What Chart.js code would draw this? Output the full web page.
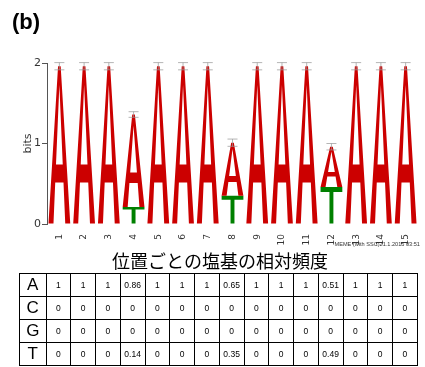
<!DOCTYPE html>
<html>
<head>
<meta charset="utf-8">
<script src="https://cdn.jsdelivr.net/npm/chart.js@4"></script>
<style>
  body { margin: 0; background: #fff; }
  #wrap { position: relative; width: 425px; height: 367px; overflow: hidden; font-family: "Liberation Sans", Arial, sans-serif; }
  #logo { position: absolute; left: 0; top: 0; }
  #panel { position: absolute; left: 12px; top: 11px; font-size: 22px; font-weight: bold; line-height: 1; }
  #stamp { position: absolute; right: 5px; top: 241px; font-size: 5.6px; line-height: 6px; color: #333; white-space: nowrap; }
  #caption { position: absolute; left: 0; width: 440px; top: 249px; text-align: center; font-family: "Noto Sans CJK JP", sans-serif; font-size: 18px; line-height: 22px; }
  #freq { position: absolute; left: 19px; top: 273px; width: 398px; border-collapse: collapse; table-layout: fixed; }
  #freq td { border: 1px solid #000; height: 22px; padding: 0; text-align: center; font-size: 8.5px; overflow: hidden; }
  #freq td.base { font-size: 17px; }
</style>
</head>
<body>
<div id="wrap">
  <canvas id="logo" width="425" height="250"></canvas>
  <div id="panel">(b)</div>
  <div id="stamp">MEME (with SSC)21.1.2015 03:51</div>
  <div id="caption">位置ごとの塩基の相対頻度</div>
  <table id="freq"></table>
</div>
<script>
// positions along the motif
const positions = ['1', '2', '3', '4', '5', '6', '7', '8', '9', '10', '11', '12', '13', '14', '15'];

// letter heights in bits
const bitsA = [1.96, 1.96, 1.96, 1.15, 1.96, 1.96, 1.96, 0.66, 1.96, 1.96, 1.96, 0.50, 1.96, 1.96, 1.96];
const bitsC = [0, 0, 0, 0, 0, 0, 0, 0, 0, 0, 0, 0, 0, 0, 0];
const bitsG = [0, 0, 0, 0, 0, 0, 0, 0, 0, 0, 0, 0, 0, 0, 0];
const bitsT = [0, 0, 0, 0.21, 0, 0, 0, 0.35, 0, 0, 0, 0.46, 0, 0, 0];

// small-sample error bar half length (bits)
const errBits = [0.045, 0.045, 0.045, 0.035, 0.045, 0.045, 0.045, 0.045, 0.045, 0.045, 0.045, 0.04, 0.045, 0.045, 0.045];

// relative frequency table
const bases = ['A', 'C', 'G', 'T'];
const freqA = [1, 1, 1, 0.86, 1, 1, 1, 0.65, 1, 1, 1, 0.51, 1, 1, 1];
const freqC = [0, 0, 0, 0, 0, 0, 0, 0, 0, 0, 0, 0, 0, 0, 0];
const freqG = [0, 0, 0, 0, 0, 0, 0, 0, 0, 0, 0, 0, 0, 0, 0];
const freqT = [0, 0, 0, 0.14, 0, 0, 0, 0.35, 0, 0, 0, 0.49, 0, 0, 0];

const yTicks = [0, 1, 2];

const baseColors = { A: '#cc0000', C: '#0000cc', G: '#ffb300', T: '#008000' };

// --- frequency table ---
const table = document.getElementById('freq');
const cg = document.createElement('colgroup');
for (let i = 0; i <= positions.length; i++) {
    const col = document.createElement('col');
    col.style.width = i === 0 ? '26.5px' : '24.76px';
    cg.appendChild(col);
}
table.appendChild(cg);
[freqA, freqC, freqG, freqT].forEach((row, i) => {
    const tr = document.createElement('tr');
    const th = document.createElement('td');
    th.className = 'base';
    th.textContent = bases[i];
    tr.appendChild(th);
    row.forEach(v => {
        const td = document.createElement('td');
        td.textContent = String(v);
        tr.appendChild(td);
    });
    table.appendChild(tr);
});

// --- glyph drawing ---
function drawGlyph(ctx, letter, left, top, w, h, color) {
    // u: 0..1 across, v: 0..1 from bottom
    const P = (u, v) => [left + u * w, top + h - v * h];
    ctx.save();
    ctx.fillStyle = color;
    ctx.beginPath();
    const poly = pts => {
        pts.forEach((p, i) => {
            const q = P(p[0], p[1]);
            if (i === 0) ctx.moveTo(q[0], q[1]); else ctx.lineTo(q[0], q[1]);
        });
        ctx.closePath();
    };
    if (letter === 'A') {
        poly([[0, 0], [0.44, 1], [0.56, 1], [1, 0], [0.77, 0], [0.69, 0.26], [0.31, 0.26], [0.23, 0]]);
        poly([[0.345, 0.375], [0.5, 0.88], [0.655, 0.375]]);
        ctx.fill('evenodd');
    } else if (letter === 'T') {
        poly([[0, 0.86], [1, 0.86], [1, 1], [0, 1]]);
        poly([[0.41, 0], [0.59, 0], [0.59, 0.86], [0.41, 0.86]]);
        ctx.fill('nonzero');
    } else {
        ctx.font = 'bold 100px "Liberation Sans", Arial, sans-serif';
        const m = ctx.measureText(letter);
        const gw = m.actualBoundingBoxLeft + m.actualBoundingBoxRight;
        const gh = m.actualBoundingBoxAscent + m.actualBoundingBoxDescent;
        ctx.translate(left, top);
        ctx.scale(w / gw, h / gh);
        ctx.fillText(letter, m.actualBoundingBoxLeft, m.actualBoundingBoxAscent);
    }
    ctx.restore();
}

const logoPlugin = {
    id: 'logoGlyphs',
    afterDatasetsDraw(chart) {
        const ctx = chart.ctx;
        const yScale = chart.scales.y;
        chart.data.datasets.forEach((ds, di) => {
            const meta = chart.getDatasetMeta(di);
            meta.data.forEach(bar => {
                const h = bar.base - bar.y;
                if (h < 0.5) return;
                drawGlyph(ctx, ds.label, bar.x - bar.width / 2, bar.y, bar.width, h, baseColors[ds.label]);
            });
        });
        // error bars at the top of each stack
        const meta0 = chart.getDatasetMeta(0);
        ctx.save();
        ctx.strokeStyle = 'rgba(150,150,150,0.7)';
        ctx.lineWidth = 1;
        positions.forEach((p, i) => {
            const total = bitsA[i] + bitsC[i] + bitsG[i] + bitsT[i];
            const x = meta0.data[i].x;
            const yHi = yScale.getPixelForValue(total + errBits[i]);
            const yLo = yScale.getPixelForValue(total - errBits[i]);
            ctx.beginPath();
            ctx.moveTo(x, yHi); ctx.lineTo(x, yLo);
            ctx.moveTo(x - 5, yHi); ctx.lineTo(x + 5, yHi);
            ctx.moveTo(x - 5, yLo); ctx.lineTo(x + 5, yLo);
            ctx.stroke();
        });
        ctx.restore();
    }
};

const clear = 'rgba(0,0,0,0)';
const mk = (label, data) => ({
    label, data,
    backgroundColor: clear, borderWidth: 0,
    barPercentage: 0.88, categoryPercentage: 1
});

new Chart(document.getElementById('logo'), {
    type: 'bar',
    data: {
        labels: positions,
        // smallest letters at the bottom of each stack
        datasets: [mk('T', bitsT), mk('G', bitsG), mk('C', bitsC), mk('A', bitsA)]
    },
    options: {
        responsive: false,
        devicePixelRatio: 1,
        animation: false,
        layout: { padding: { left: 22, right: 7, top: 63, bottom: 0 } },
        plugins: { legend: { display: false }, tooltip: { enabled: false } },
        scales: {
            x: {
                stacked: true,
                grid: { display: false },
                border: { display: false },
                ticks: {
                    minRotation: 90, maxRotation: 90, padding: 2,
                    color: '#333', font: { size: 9, family: '"DejaVu Sans", sans-serif' }
                },
                afterFit: s => { s.height = 26; }
            },
            y: {
                stacked: true,
                min: 0, max: 2,
                afterBuildTicks: s => { s.ticks = yTicks.map(v => ({ value: v })); },
                grid: { drawOnChartArea: false, drawTicks: true, tickLength: 5, color: '#555' },
                border: { display: true, color: '#555', width: 1 },
                ticks: { padding: 1, color: '#333', font: { size: 11, family: '"DejaVu Sans", sans-serif' } },
                title: { display: true, text: 'bits', color: '#333', padding: 0, font: { size: 11, family: '"DejaVu Sans", sans-serif' } },
                afterFit: s => { s.width = 25; }
            }
        }
    },
    plugins: [logoPlugin]
});
</script>
</body>
</html>
